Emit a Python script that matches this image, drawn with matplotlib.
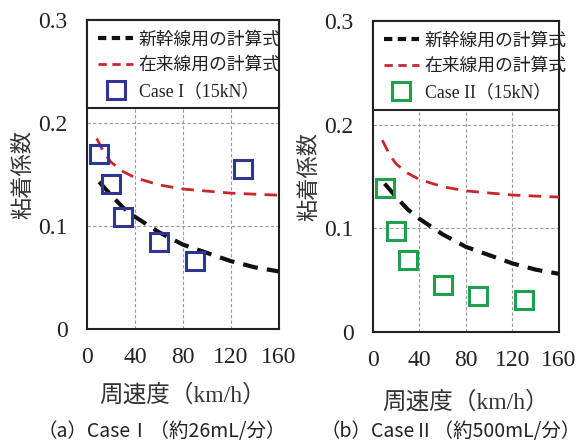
import matplotlib
matplotlib.use("Agg")
import matplotlib.pyplot as plt
from matplotlib.lines import Line2D
from matplotlib.patches import Rectangle

FONTS = ["Liberation Serif", "Noto Sans CJK JP", "DejaVu Sans"]
CJK = ["Noto Sans CJK JP", "DejaVu Sans"]
plt.rcParams["font.family"] = FONTS

# curves (speed km/h, adhesion coefficient)
shinkansen_v = [10, 20, 30, 40, 60, 80, 100, 120, 140, 160]
shinkansen_mu = [0.143, 0.130, 0.118, 0.109, 0.094, 0.082, 0.074, 0.066, 0.060, 0.056]
zairai_v = [8, 12, 16, 20, 30, 40, 60, 80, 100, 120, 140, 160]
zairai_mu = [0.185, 0.176, 0.168, 0.162, 0.153, 0.147, 0.140, 0.136, 0.134, 0.132, 0.131, 0.130]

# measured points
case_v = [10, 20, 30, 60, 90, 130]
case1_mu = [0.170, 0.141, 0.109, 0.085, 0.066, 0.155]
case2_mu = [0.139, 0.097, 0.069, 0.045, 0.035, 0.031]

x_ticks = [0, 40, 80, 120, 160]
y_ticks = [0, 0.1, 0.2, 0.3]
y_ticklabels = ["0", "0.1", "0.2", "0.3"]

panels = [
    dict(rect=[0.150, 0.262, 0.330, 0.693], mu=case1_mu, color="#2E3593",
         label="Case I（15kN）", caption="（a）CaseⅠ（約26mL/分）",
         xlab_y=0.113, cap_x=0.278),
    dict(rect=[0.642, 0.256, 0.320, 0.697], mu=case2_mu, color="#1FA04A",
         label="Case II（15kN）", caption="（b）CaseⅡ（約500mL/分）",
         xlab_y=0.097, cap_x=0.775),
]

fig = plt.figure(figsize=(5.81, 4.46), dpi=100)

for p in panels:
    ax = fig.add_axes(p["rect"])
    ax.set_xlim(0, 160)
    ax.set_ylim(0, 0.3)
    ax.set_xticks(x_ticks)
    ax.set_yticks(y_ticks)
    ax.set_yticklabels(y_ticklabels)
    ax.tick_params(length=0, labelsize=17, colors="#222222")
    ax.tick_params(axis="x", pad=13)
    ax.tick_params(axis="y", pad=14)
    for s in ax.spines.values():
        s.set_linewidth(1.5)
        s.set_color("#222222")

    for x in [40, 80, 120]:
        ax.axvline(x, color="#999999", lw=0.8, ls=(0, (3, 2)), zorder=1)
    for y in [0.1, 0.2]:
        ax.axhline(y, color="#999999", lw=0.8, ls=(0, (3, 2)), zorder=1)

    ax.plot(shinkansen_v, shinkansen_mu, color="#111111", lw=3.0,
            dashes=(3.6, 2.2), zorder=3)
    ax.plot(zairai_v, zairai_mu, color="#C8262B", lw=2.0,
            dashes=(4.5, 3.0), zorder=3)
    ax.plot(case_v, p["mu"], ls="none", marker="s", ms=13, mfc="none",
            mec=p["color"], mew=2.2, zorder=4)

    # legend box at the top of the axes
    ax.add_patch(Rectangle((0, 0.715), 1, 0.285, transform=ax.transAxes,
                           facecolor="white", edgecolor="#222222", lw=1.5,
                           zorder=5, clip_on=False))
    handles = [
        Line2D([], [], color="#111111", lw=3.0, dashes=(2.0, 1.3)),
        Line2D([], [], color="#C8262B", lw=2.0, dashes=(3, 2.0)),
        Line2D([], [], ls="none", marker="s", ms=13, mfc="none",
               mec=p["color"], mew=2.2),
    ]
    labels = ["新幹線用の計算式", "在来線用の計算式", p["label"]]
    leg = ax.legend(handles, labels, loc="upper left", bbox_to_anchor=(0.0, 0.998),
                    frameon=False, handlelength=2.0, handletextpad=0.3,
                    labelspacing=0.5, borderaxespad=0.2,
                    prop={"family": FONTS, "size": 12.8})
    leg.set_zorder(6)
    for t in leg.get_texts():
        t.set_color("#222222")

    ax.set_ylabel("粘着係数", fontsize=16, color="#333333", labelpad=3,
                  family=CJK)

    fig.text(p["rect"][0] + p["rect"][2] / 2, p["xlab_y"], "周速度（km/h）",
             ha="center", va="center", fontsize=17, color="#333333",
             family=FONTS)
    fig.text(p["cap_x"], 0.032, p["caption"], ha="center", va="center",
             fontsize=14, color="#222222", family=CJK)

fig.savefig("out.png", dpi=100)
